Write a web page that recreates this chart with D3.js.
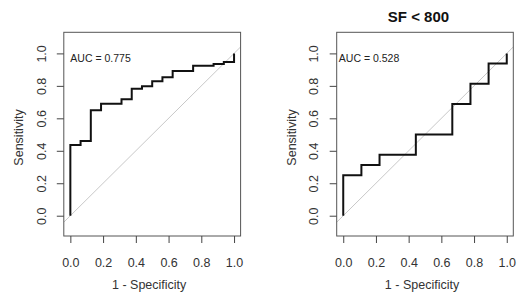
<!DOCTYPE html>
<html>
<head>
<meta charset="utf-8">
<script src="https://cdn.jsdelivr.net/npm/d3@7"></script>
<style>
  body { margin: 0; background: #fff; }
  svg { display: block; font-family: Arial, "Liberation Sans", sans-serif; }
</style>
</head>
<body>
<div class="chart"></div>
<script>
// ROC points (1 - specificity, sensitivity)
const fprAll = [0, 0, 0.0625, 0.125, 0.1875, 0.3125, 0.375, 0.4375, 0.5, 0.5625, 0.625, 0.75, 0.875, 0.9375, 1]
const tprAll = [0, 0.435, 0.461, 0.649, 0.690, 0.718, 0.782, 0.798, 0.829, 0.853, 0.892, 0.924, 0.935, 0.947, 1]
const fprSF = [0, 0, 0.111, 0.222, 0.444, 0.667, 0.778, 0.889, 1]
const tprSF = [0, 0.25, 0.3125, 0.375, 0.5, 0.6875, 0.8125, 0.9375, 1]

const aucLabels = ["AUC = 0.775", "AUC = 0.528"]
const titles = ["", "SF < 800"]
const ticks = [0, 0.2, 0.4, 0.6, 0.8, 1.0]

const width = 520, height = 299

const svg = d3.select(".chart").append("svg")
    .attr("width", width)
    .attr("height", height)

// Panel layout
const panels = [
    {left: 63.8, right: 240.6, fpr: fprAll, tpr: tprAll, auc: aucLabels[0], aucX: 0.0, title: titles[0], id: "a"},
    {left: 336.7, right: 513.3, fpr: fprSF, tpr: tprSF, auc: aucLabels[1], aucX: -0.027, title: titles[1], id: "b"}
]
const boxTop = 32.3, boxBottom = 236

panels.forEach(p => {
    const xScale = d3.scaleLinear().domain([-0.04, 1.04]).range([p.left, p.right])
    const yScale = d3.scaleLinear().domain([-0.125, 1.13]).range([boxBottom, boxTop])

    const g = svg.append("g")

    // clip to plot region
    g.append("clipPath").attr("id", "clip-" + p.id)
        .append("rect")
        .attr("x", p.left).attr("y", boxTop)
        .attr("width", p.right - p.left).attr("height", boxBottom - boxTop)

    // chance diagonal
    g.append("line")
        .attr("clip-path", `url(#clip-${p.id})`)
        .attr("x1", xScale(-0.2)).attr("y1", yScale(-0.2))
        .attr("x2", xScale(1.2)).attr("y2", yScale(1.2))
        .attr("stroke", "#c8c8c8")
        .attr("stroke-width", 1)

    // ROC curve
    const pts = p.fpr.map((d, i) => [d, p.tpr[i]])
    const line = d3.line()
        .x(d => xScale(d[0]))
        .y(d => yScale(d[1]))
        .curve(d3.curveStepAfter)
    g.append("path")
        .attr("d", line(pts))
        .attr("fill", "none")
        .attr("stroke", "#111")
        .attr("stroke-width", 2)

    // box
    g.append("rect")
        .attr("x", p.left).attr("y", boxTop)
        .attr("width", p.right - p.left).attr("height", boxBottom - boxTop)
        .attr("fill", "none")
        .attr("stroke", "#555")
        .attr("stroke-width", 1)

    // x-axis
    const xAxis = d3.axisBottom(xScale).tickValues(ticks).tickSize(7).tickFormat(d3.format(".1f"))
    const gx = g.append("g")
        .attr("transform", `translate(0, ${boxBottom})`)
        .call(xAxis)
    gx.select(".domain").remove()
    gx.selectAll(".tick line").attr("stroke", "#444")
    gx.selectAll(".tick text")
        .attr("y", 30.5).attr("dy", 0)
        .attr("font-size", 12.5)
        .attr("font-family", "Arial, 'Liberation Sans', sans-serif")
        .attr("fill", "#333")

    // y-axis
    const yAxis = d3.axisLeft(yScale).tickValues(ticks).tickSize(7).tickFormat(d3.format(".1f"))
    const gy = g.append("g")
        .attr("transform", `translate(${p.left}, 0)`)
        .call(yAxis)
    gy.select(".domain").remove()
    gy.selectAll(".tick line").attr("stroke", "#444")
    gy.selectAll(".tick text")
        .attr("transform", "rotate(-90)")
        .attr("x", 0).attr("y", -18.3).attr("dy", 0)
        .attr("text-anchor", "middle")
        .attr("font-size", 12.5)
        .attr("font-family", "Arial, 'Liberation Sans', sans-serif")
        .attr("fill", "#333")

    const cx = (p.left + p.right) / 2

    // axis titles
    g.append("text")
        .attr("x", cx - 3)
        .attr("y", 289)
        .attr("text-anchor", "middle")
        .attr("font-size", 12.5)
        .attr("fill", "#333")
        .text("1 - Specificity")

    g.append("text")
        .attr("transform", `translate(${p.left - 40.7}, 137.5) rotate(-90)`)
        .attr("text-anchor", "middle")
        .attr("font-size", 12.5)
        .attr("fill", "#333")
        .text("Sensitivity")

    // AUC label
    g.append("text")
        .attr("x", xScale(p.aucX))
        .attr("y", 62.3)
        .attr("font-size", 10.5)
        .attr("fill", "#222")
        .text(p.auc)

    // title
    if (p.title) {
        g.append("text")
            .attr("x", cx - 6.5)
            .attr("y", 22)
            .attr("text-anchor", "middle")
            .attr("font-size", 15)
            .attr("font-weight", "bold")
            .attr("fill", "#111")
            .text(p.title)
    }
})
</script>
</body>
</html>
